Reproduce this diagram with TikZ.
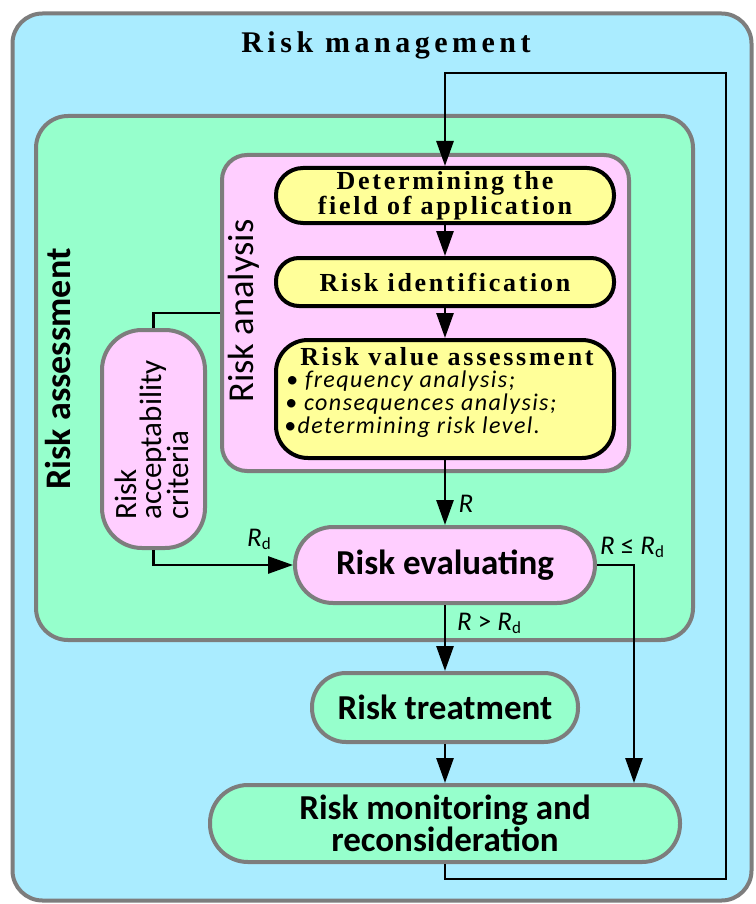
\documentclass[tikz,border=0pt]{standalone}
\usepackage{fontspec}
\setmainfont{Liberation Serif}
\newfontfamily\sansf{Carlito}
\usetikzlibrary{arrows.meta}
\definecolor{cyanbg}{RGB}{170,236,255}
\definecolor{greenbg}{RGB}{150,255,204}
\definecolor{pinkbg}{RGB}{255,206,255}
\definecolor{yellowbg}{RGB}{255,255,153}
\definecolor{graybd}{RGB}{125,125,125}
\newcommand\Rsub{\textit{R}\raisebox{-3pt}{\fontsize{17}{17}\selectfont d}}
\begin{document}
\begin{tikzpicture}[x=1pt,y=-1pt,
  conn/.style={line width=2.8pt},
  arr/.style={conn,-{Triangle[length=25pt,width=17pt]}},
  graybox/.style={draw=graybd, line width=4pt, rounded corners=#1, inner sep=0pt, align=center},
  yelbox/.style={draw=black, line width=4pt, fill=yellowbg, rounded corners=#1, inner sep=0pt, align=center, minimum width=338pt},
  serift/.style={font={\fontsize{26}{22}\selectfont\bfseries\addfontfeature{LetterSpace=10.5}}},
  sansb/.style={font={\fontsize{35}{27}\selectfont\sansf\bfseries}},
  bul/.style={anchor=west, inner sep=0pt, font={\fontsize{24}{24}\selectfont\sansf\itshape\addfontfeature{LetterSpace=6}}},
  lab/.style={inner sep=0pt, font={\fontsize{27}{27}\selectfont\sansf}},
]
\useasboundingbox (0,0) rectangle (755,904);
\fill[white] (0,0) rectangle (755,904);
\node[graybox=30pt, fill=cyanbg, minimum width=739pt, minimum height=887pt] (outer) at (382,457) {};
\node[font={\fontsize{30}{30}\selectfont\bfseries\addfontfeature{LetterSpace=15}}] (title) at (386,45) {Risk management};
\node[graybox=32pt, fill=greenbg, minimum width=657pt, minimum height=524pt] (green) at (364.5,378) {};
\node[rotate=90, font={\fontsize{36}{36}\selectfont\sansf\bfseries}] (ratext) at (58,369) {Risk assessment};
\node[graybox=25pt, fill=pinkbg, minimum width=407pt, minimum height=316pt] (pink) at (425.5,313) {};
\node[rotate=90, font={\fontsize{36.5}{36}\selectfont\sansf}] (rantext) at (244,311) {Risk analysis};
\node[yelbox=27pt, minimum height=55pt, serift] (y1) at (445,195.5) {Determining the\\field of application};
\node[yelbox=23pt, minimum height=48pt, serift] (y2) at (445,282) {Risk identification};
\node[yelbox=32pt, minimum height=118pt] (y3) at (445,399) {};
\node[serift, inner sep=0pt] (y3t) at (447,357) {Risk value assessment};
\node[bul] (b1) at (286,381) {• frequency analysis;};
\node[bul] (b2) at (285,404) {• consequences analysis;};
\node[bul] (b3) at (284,427) {•determining risk level.};
\node[graybox=40pt, fill=pinkbg, minimum width=103pt, minimum height=218pt] (acc) at (153.5,439) {};
\node[rotate=90, align=left, font={\fontsize{31}{25}\selectfont\sansf}] (acct) at (152,440) {Risk\\acceptability\\criteria};
\node[graybox=38pt, fill=pinkbg, minimum width=300pt, minimum height=76pt, sansb] (eval) at (445,565) {Risk evaluating};
\node[graybox=34pt, fill=greenbg, minimum width=266pt, minimum height=69pt, sansb] (treat) at (445,707.5) {Risk treatment};
\node[graybox=38pt, fill=greenbg, minimum width=470pt, minimum height=77pt, sansb] (mon) at (445,823.5) {Risk monitoring and\\reconsideration};
% connectors
\coordinate (rb) at (726,879);
\coordinate (lt) at (445,73);
\coordinate (rx) at (634,0);
\draw[arr] (mon.south) |- (rb) |- (lt) -- (y1.north);
\draw[arr] (y1) -- (y2);
\draw[arr] (y2) -- (y3);
\draw[arr] (y3) -- (eval);
\draw[conn] (acc.north) |- (pink.west);
\draw[arr] (acc.south) |- (eval.west);
\draw[arr] (eval.east) -| (rx |- mon.north);
\draw[arr] (eval) -- (treat);
\draw[arr] (treat) -- (mon);
% labels
\node[lab] (lR) at (466,504) {\textit{R}};
\node[lab] (lRd) at (259,539) {\Rsub};
\node[lab] (lle) at (632,547) {\textit{R} ≤ \Rsub};
\node[lab] (lgt) at (489,623) {\textit{R} > \Rsub};
\end{tikzpicture}
\end{document}
